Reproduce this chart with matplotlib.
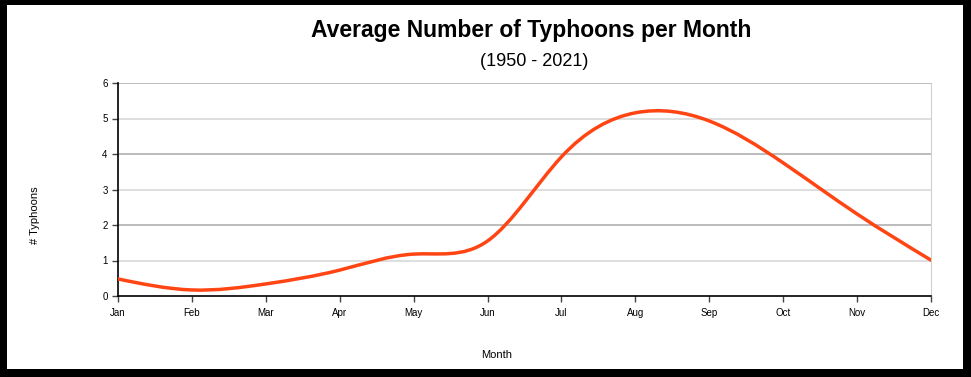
import numpy as np
import matplotlib.pyplot as plt
from matplotlib.path import Path
from matplotlib.patches import PathPatch, Rectangle

months = ["Jan", "Feb", "Mar", "Apr", "May", "Jun",
          "Jul", "Aug", "Sep", "Oct", "Nov", "Dec"]
typhoons = [0.48, 0.17, 0.34, 0.73, 1.18, 1.55,
            3.92, 5.16, 4.93, 3.75, 2.31, 1.01]


def spline_path(y):
    # natural cubic spline through the points, drawn as bezier segments
    y = np.asarray(y, dtype=float)
    n = len(y)
    a = np.zeros((n, n))
    b = np.zeros(n)
    a[0, 0] = a[-1, -1] = 1
    for i in range(1, n - 1):
        a[i, i - 1], a[i, i], a[i, i + 1] = 1, 4, 1
        b[i] = 6 * (y[i + 1] - 2 * y[i] + y[i - 1])
    m2 = np.linalg.solve(a, b)
    d = np.zeros(n)
    for i in range(n - 1):
        d[i] = (y[i + 1] - y[i]) - (2 * m2[i] + m2[i + 1]) / 6
    d[-1] = (y[-1] - y[-2]) + (m2[-2] + 2 * m2[-1]) / 6
    verts = [(0, y[0])]
    codes = [Path.MOVETO]
    for i in range(n - 1):
        verts += [(i + 1 / 3, y[i] + d[i] / 3),
                  (i + 2 / 3, y[i + 1] - d[i + 1] / 3),
                  (i + 1, y[i + 1])]
        codes += [Path.CURVE4] * 3
    return Path(verts, codes)


plt.rcParams["font.family"] = ["Liberation Sans", "DejaVu Sans"]

fig = plt.figure(figsize=(9.71, 3.77), dpi=100, facecolor="black")
W, H = 971, 377
fig.patches.append(Rectangle((7 / W, 1 - 369 / H), (963 - 7) / W, (369 - 5) / H,
                             transform=fig.transFigure, facecolor="white",
                             edgecolor="none", zorder=-5))

ax = fig.add_axes([118 / W, (H - 296) / H, (931 - 118) / W, (296 - 83) / H])
ax.set_zorder(2)
ax.set_facecolor("white")
x = np.arange(len(months))
ax.add_patch(PathPatch(spline_path(typhoons), facecolor="none",
                       edgecolor="#ff4513", linewidth=2.5, zorder=3,
                       capstyle="round"))

ax.set_xlim(0, len(months) - 1)
ax.set_ylim(0, 6)
ax.set_xticks(x)
ax.set_xticklabels(months)
ax.set_yticks(range(7))
for v in range(1, 7):
    ax.axhline(v, color="#b0b0b0" if v % 2 == 0 else "#d8d8d8", lw=1.2, zorder=1)

ax.spines["top"].set_visible(False)
ax.spines["right"].set_color("#d0d0d0")
ax.spines["left"].set_linewidth(1.2)
ax.spines["bottom"].set_linewidth(1.2)
ax.tick_params(axis="both", labelsize=7, length=4, width=1, direction="out",
               color="#444444")
ax.tick_params(axis="x", pad=5)

fig.text(531 / W, 1 - 30 / H, "Average Number of Typhoons per Month",
         ha="center", va="center", fontsize=16.5, fontweight="bold")
fig.text(534 / W, 1 - 62 / H, "(1950 - 2021)", ha="center", va="center",
         fontsize=13)
fig.text(497 / W, 1 - 355 / H, "Month", ha="center", va="center", fontsize=8)
fig.text(35 / W, 1 - 215 / H, "# Typhoons", ha="center", va="center",
         rotation=90, fontsize=8)

fig.savefig("out.png", dpi=100, facecolor=fig.get_facecolor())
